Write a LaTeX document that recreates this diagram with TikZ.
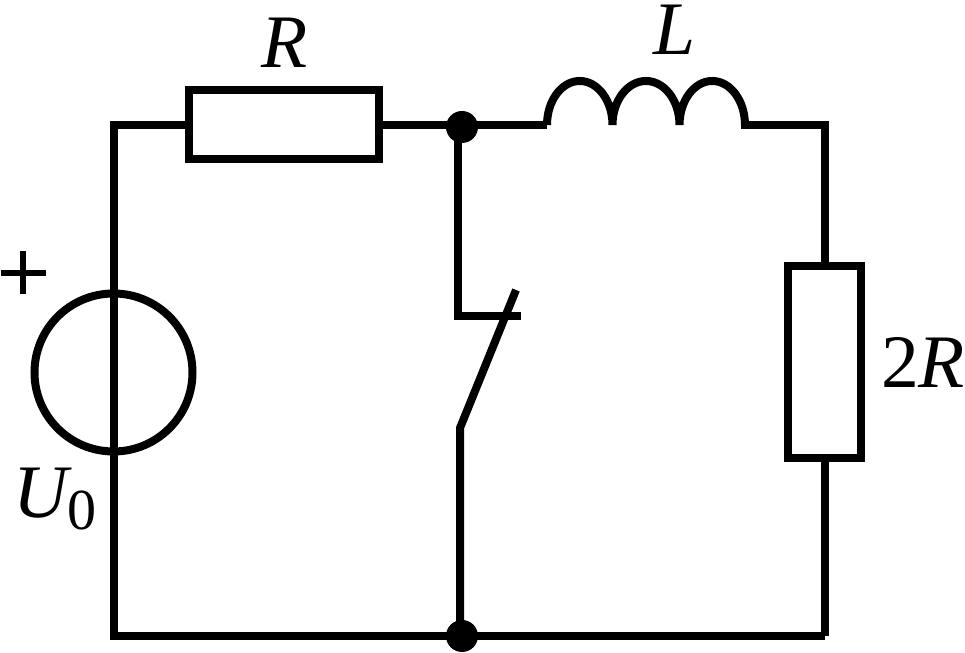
\documentclass[tikz,border=0pt]{standalone}
\usepackage{fontspec}
\setmainfont{Liberation Serif}
\usetikzlibrary{calc}

\tikzset{
  wire/.style={line width=0.16cm, line join=miter},
  res/.style={draw, line width=0.16cm, fill=white, inner sep=0pt},
  dot/.style={circle, fill=black, inner sep=0pt, minimum size=0.64cm},
  lab/.style={inner sep=0pt, anchor=base, font=\fontsize{43}{50}\selectfont\itshape}
}

\begin{document}
\begin{tikzpicture}

\useasboundingbox (0,0) rectangle (19.3,13.06);

% corners
\coordinate (TL) at (2.28,10.56);
\coordinate (BL) at (2.28,0.34);
\coordinate (TR) at (16.5,10.56);
\coordinate (BR) at (16.5,0.34);
\coordinate (Lin) at (10.94,10.56);
\coordinate (Lout) at (14.9,10.56);
\coordinate (Sa) at (9.16,6.74);
\coordinate (Sb) at (10.42,6.74);
\coordinate (Sc) at (10.32,7.26);
\coordinate (Sd) at (9.2,4.5);

\node at (9.24,10.52) (Jtop) [dot] {};
\node at (9.24,0.34) (Jbot) [dot] {};
\coordinate (Jv) at (9.16,10.52);
\coordinate (Jw) at (9.2,0.34);

\draw [wire] (BR) -- (BL) -- (TL) -- (Lin);
\draw [wire] (Lout) -- (TR) -- (BR);

\node at (5.68,10.56) (R1) [res, minimum width=3.8cm, minimum height=1.38cm] {};
\node at (16.48,5.81) (R2) [res, minimum width=1.46cm, minimum height=3.84cm] {};

\node at (2.27,5.61) (U) [draw, circle, line width=0.16cm, inner sep=0pt, minimum size=3.16cm] {};
\draw [wire] (U.north) -- (U.south);

% inductor
\draw [wire] (Lin) arc[start angle=180, end angle=0, x radius=0.655, y radius=0.88]
  arc[start angle=180, end angle=0, x radius=0.67, y radius=0.88]
  arc[start angle=180, end angle=0, x radius=0.655, y radius=0.88] -- (Lout);

% switch
\draw [wire] (Jv) -- (Sa) -- (Sb);
\draw [wire] (Sc) -- (Sd) -- (Jw);

% plus
\coordinate (Pw) at (0.02,7.6);
\coordinate (Pe) at (0.92,7.6);
\coordinate (Pn) at (0.46,8.04);
\coordinate (Ps) at (0.46,7.18);
\draw [line width=0.13cm] (Pw) -- (Pe);
\draw [line width=0.13cm] (Pn) -- (Ps);

\node at (5.7,11.7) (Rl) [lab] {R};
\node at (13.5,11.96) (Ll) [lab] {L};
\node at (18.46,5.3) (Rr) [lab] {\upshape 2\itshape R};
\node at (1.1,2.7) (Ul) [lab] {U\raisebox{-0.24cm}{\fontsize{33}{40}\selectfont\upshape 0}};

\end{tikzpicture}
\end{document}
